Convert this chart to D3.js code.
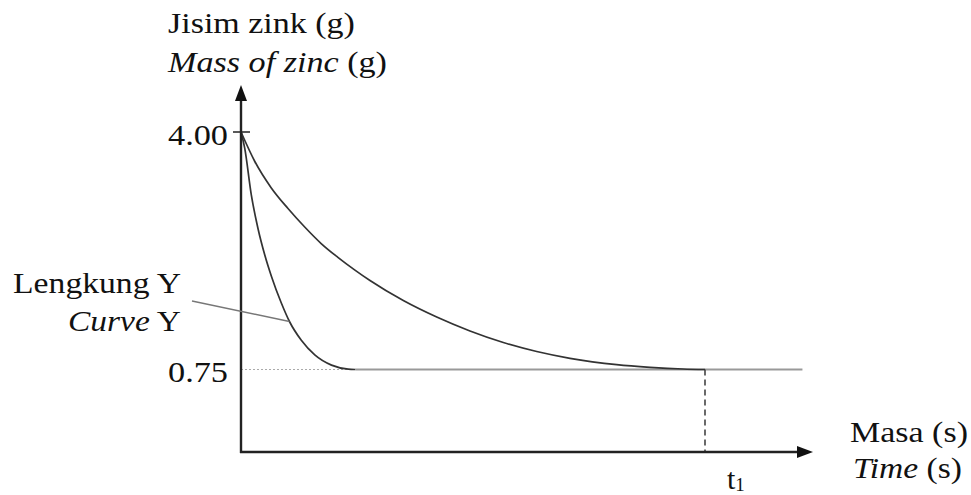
<!DOCTYPE html>
<html><head><meta charset="utf-8">
<script src="https://cdn.jsdelivr.net/npm/d3@7"></script>
<style>
html,body{margin:0;padding:0;background:#fff;}
text{font-family:"Liberation Serif","Times New Roman","DejaVu Serif",serif;fill:#111;}
</style></head>
<body><svg id="c" width="971" height="495"></svg>
<script>
// ---- data ----
const yTicks = [4.00, 0.75];
const yTickLabels = ["4.00", "0.75"];
const t1 = 100;               // time t1 (relative units)
const finalMass = 0.75;
const curveYTime = [0, 0.8, 2.22, 3.66, 5.11, 6.53, 8.69, 10.5, 13.0, 15.9, 19.5, 23.1, 24.6];
const curveYMass = [4.00, 3.78, 3.14, 2.68, 2.32, 2.03, 1.66, 1.40, 1.15, 0.95, 0.81, 0.755, 0.75];
const curve2Time = [0, 2.95, 6.53, 10.13, 13.73, 17.28, 20.88, 24.48, 27.80, 34.98, 42.18, 49.35, 56.53, 63.73, 70.91, 80.97, 88.15, 95.26, 100];
const curve2Mass = [4.00, 3.60, 3.235, 2.953, 2.700, 2.474, 2.285, 2.114, 1.968, 1.694, 1.468, 1.277, 1.119, 0.996, 0.903, 0.816, 0.780, 0.757, 0.75];
const plateauEnd = 121;
const yLabel = ["Jisim zink (g)", "Mass of zinc", " (g)"];
const xLabel = ["Masa (s)", "Time", " (s)"];
const curveLabel = ["Lengkung Y", "Curve", " Y"];

const svg = d3.select("#c");
const x = d3.scaleLinear().domain([0, 100]).range([241, 705]);
const y = d3.scaleLinear().domain([0.75, 4.00]).range([369.5, 132]);
const x0 = 241, y0 = 452;
const FS = 30;

// dotted guide at 0.75
const yEnd = curveYTime[curveYTime.length-1];
svg.append("line").attr("x1", x(0)).attr("x2", x(yEnd))
  .attr("y1", y(finalMass)).attr("y2", y(finalMass))
  .attr("stroke", "#aaa").attr("stroke-width", 1).attr("stroke-dasharray", "2,2");
// plateau
svg.append("line").attr("x1", x(yEnd)).attr("x2", x(plateauEnd))
  .attr("y1", y(finalMass)).attr("y2", y(finalMass))
  .attr("stroke", "#999").attr("stroke-width", 2.2);
// dashed t1
svg.append("line").attr("x1", x(t1)).attr("x2", x(t1))
  .attr("y1", y(finalMass)).attr("y2", y0)
  .attr("stroke", "#444").attr("stroke-width", 1.6).attr("stroke-dasharray", "6,4");

const line = d3.line().x(d => x(d[0])).y(d => y(d[1])).curve(d3.curveMonotoneX);
svg.append("path").datum(curveYTime.map((t,i)=>[t, curveYMass[i]]))
  .attr("d", line).attr("fill", "none").attr("stroke", "#333").attr("stroke-width", 1.7);
svg.append("path").datum(curve2Time.map((t,i)=>[t, curve2Mass[i]]))
  .attr("d", line).attr("fill", "none").attr("stroke", "#333").attr("stroke-width", 1.7);

// axes lines
svg.append("line").attr("x1", x0).attr("x2", x0).attr("y1", y0+1).attr("y2", 98)
  .attr("stroke", "#222").attr("stroke-width", 2.4);
svg.append("line").attr("x1", x0-1).attr("x2", 800).attr("y1", y0).attr("y2", y0)
  .attr("stroke", "#222").attr("stroke-width", 2.4);
svg.append("path").attr("d", `M${x0},85 L${x0-6},101 L${x0+6},101 Z`).attr("fill", "#111");
svg.append("path").attr("d", `M813,${y0} L797,${y0-6} L797,${y0+6} Z`).attr("fill", "#111");

// fit text horizontally to a target width
function fit(t, tx, ty, w, anchor) {
  const len = t.node().getComputedTextLength();
  const s = w / len;
  t.attr("text-anchor", anchor || "start").attr("transform", `translate(${tx},${ty}) scale(${s},1)`);
}

// y axis labels via d3 axis
const ax = svg.append("g").attr("transform", `translate(${x0},0)`)
  .call(d3.axisLeft(y).tickValues(yTicks).tickSize(0).tickPadding(0)
    .tickFormat((d,i)=>yTickLabels[i]));
ax.select(".domain").remove();
ax.selectAll(".tick text").attr("x", null).attr("dy", null)
  .attr("font-size", FS).attr("fill", "#111")
  .each(function() { fit(d3.select(this), -13, 12, 60, "end"); });
// cross tick at 4.00
svg.append("line").attr("x1", x0-8).attr("x2", x0+9).attr("y1", y(4)).attr("y2", y(4))
  .attr("stroke", "#222").attr("stroke-width", 1.5);

function label(tx, ty, w, parts, anchor) {
  const t = svg.append("text").attr("font-size", FS);
  parts.forEach(p => t.append("tspan").text(p[0]).attr("font-style", p[1] ? "italic" : "normal"));
  fit(t, tx, ty, w, anchor);
  return t;
}
label(168, 33, 187, [[yLabel[0]]]);
label(168, 72, 219, [[yLabel[1], true], [yLabel[2]]]);
label(850, 442, 118, [[xLabel[0]]]);
label(853, 478, 109, [[xLabel[1], true], [xLabel[2]]]);
label(181, 293, 168, [[curveLabel[0]]], "end");
label(181, 331, 113, [[curveLabel[1], true], [curveLabel[2]]], "end");
// t1
const tl = svg.append("text").attr("transform", `translate(727,489)`).attr("font-size", FS);
tl.append("tspan").text("t");
tl.append("tspan").text("1").attr("font-size", 19).attr("dy", 2);

// leader line for Curve Y
svg.append("line").attr("x1", 192).attr("y1", 301).attr("x2", 289.5).attr("y2", 321.5)
  .attr("stroke", "#777").attr("stroke-width", 1.4);
</script></body></html>
